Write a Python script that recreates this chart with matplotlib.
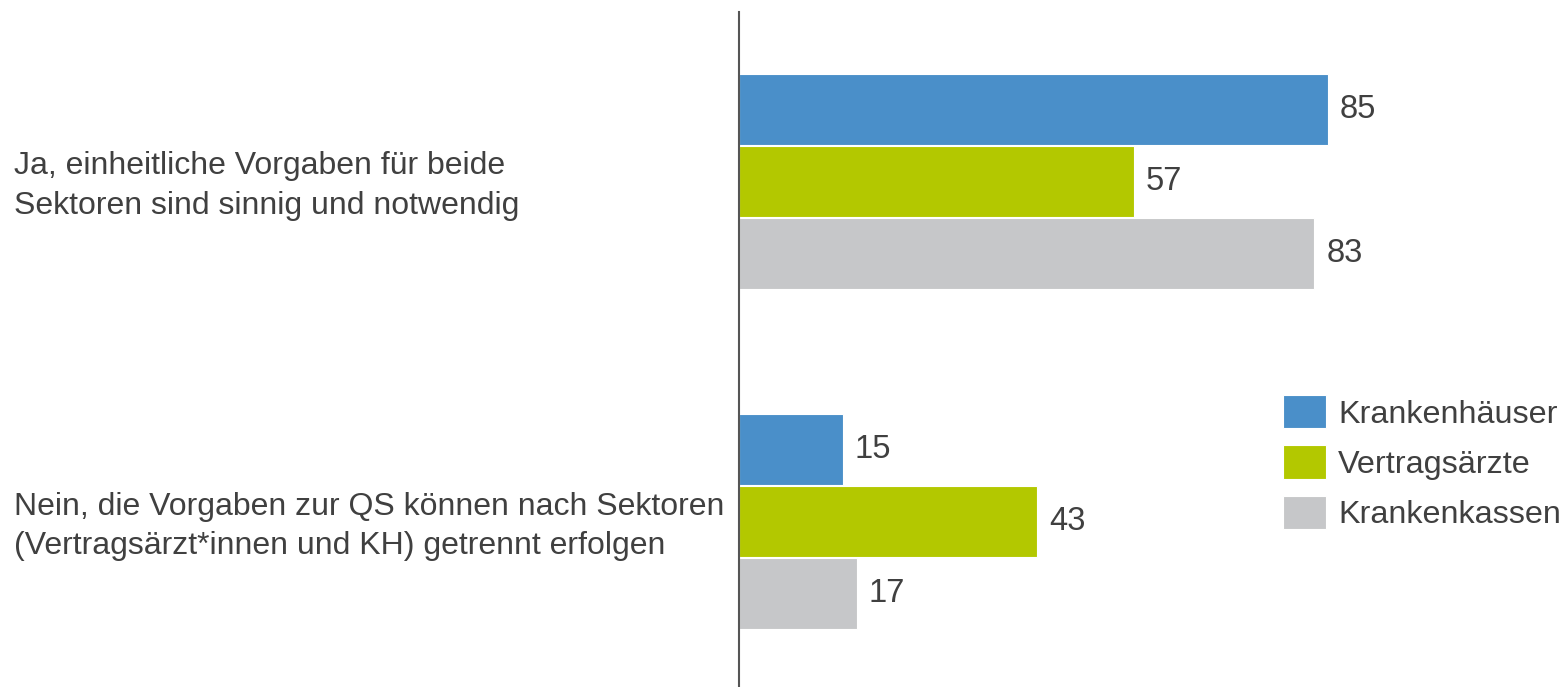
import matplotlib
matplotlib.use("Agg")
import matplotlib.pyplot as plt
import matplotlib.transforms as mtransforms
import numpy as np

categories = [
    "Ja, einheitliche Vorgaben für beide\nSektoren sind sinnig und notwendig",
    "Nein, die Vorgaben zur QS können nach Sektoren\n(Vertragsärzt*innen und KH) getrennt erfolgen",
]
series_names = ["Krankenhäuser", "Vertragsärzte", "Krankenkassen"]
krankenhaeuser = [85, 15]
vertragsaerzte = [57, 43]
krankenkassen = [83, 17]
series_values = [krankenhaeuser, vertragsaerzte, krankenkassen]
colors = ["#4A8FC9", "#B3C800", "#C6C7C9"]
text_color = "#404040"

plt.rcParams['font.family'] = ['Liberation Sans', 'DejaVu Sans']

W, H = 1562, 687
fig = plt.figure(figsize=(W / 100, H / 100), dpi=100)
ax = fig.add_axes([739 / W, 0, 693 / W, 675 / H])

step = 72 / 340.5
bh = 71 / 340.5
ypos = np.arange(len(categories))
for i, (name, vals, c) in enumerate(zip(series_names, series_values, colors)):
    y = ypos + (i - 1) * step
    ax.barh(y, vals, height=bh, color=c, edgecolor="white", linewidth=0.8, label=name)
    for yy, v in zip(y, vals):
        ax.annotate(f"{v}", xy=(v, yy), xytext=(12, 0), textcoords="offset pixels",
                    va="center", ha="left", fontsize=23.5, color=text_color)

ax.set_xlim(0, 100)
ax.set_ylim(1 + (687 - 521.5) / 340.5, -(181 - 12) / 340.5)
for s in ["top", "right", "bottom"]:
    ax.spines[s].set_visible(False)
ax.spines["left"].set_color("#555555")
ax.spines["left"].set_linewidth(1.5)
ax.set_xticks([])
ax.set_yticks([])

trans = mtransforms.blended_transform_factory(fig.transFigure, ax.transData)
for yy, lab in zip(ypos, categories):
    ax.text(14 / W, yy + 5 / 340.5, lab, transform=trans, ha="left", va="center",
            fontsize=23, color=text_color, linespacing=1.4)

leg = ax.legend(loc="upper left", bbox_to_anchor=(1283 / W, 1 - 395 / H),
                bbox_transform=fig.transFigure, frameon=False, fontsize=23.3,
                handlelength=1.33, handleheight=1.2, handletextpad=0.37,
                labelspacing=0.49, borderpad=0, borderaxespad=0)
for t in leg.get_texts():
    t.set_color(text_color)

fig.savefig("out.png", dpi=100)
